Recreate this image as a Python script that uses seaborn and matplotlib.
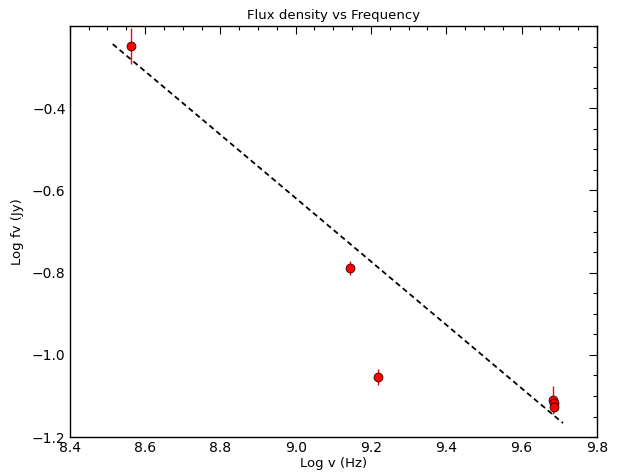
import numpy as np
import pandas as pd
import matplotlib
matplotlib.use("Agg")
import matplotlib.pyplot as plt
import seaborn as sns
from matplotlib.ticker import MultipleLocator

# measured points (log frequency, log flux density, error)
log_freq = [8.562, 9.144, 9.218, 9.684, 9.685, 9.686]
log_flux = [-0.249, -0.789, -1.054, -1.110, -1.118, -1.127]
flux_err = [0.043, 0.017, 0.019, 0.035, 0.015, 0.012]

# fitted power law line end points
fit_x = [8.514, 9.710]
fit_y = [-0.244, -1.166]

data = pd.DataFrame({"logv": log_freq, "logf": log_flux, "err": flux_err})
fit = pd.DataFrame({"logv": fit_x, "logf": fit_y})

sns.set_style("white")
plt.rcParams["font.family"] = ["DejaVu Sans"]
plt.rcParams["text.color"] = "black"
plt.rcParams["axes.labelcolor"] = "black"

fig, ax = plt.subplots(figsize=(6.23, 4.72), dpi=100)
fig.subplots_adjust(left=0.112, right=0.958, top=0.945, bottom=0.074)

# error bars first, then the markers on top
ax.errorbar(data["logv"], data["logf"], yerr=data["err"], fmt="none",
            ecolor="red", elinewidth=1, capsize=0, zorder=2)
sns.scatterplot(data=data, x="logv", y="logf", ax=ax, color="red",
                edgecolor="black", linewidth=0.5, s=42, zorder=3, legend=False)
sns.lineplot(data=fit, x="logv", y="logf", ax=ax, color="black",
             linestyle="--", linewidth=1.3, dashes=False, zorder=1)
ax.lines[-1].set_dashes([3, 2])

ax.set_xlim(8.4, 9.8)
ax.set_ylim(-1.2, -0.2)
ax.xaxis.set_major_locator(MultipleLocator(0.2))
ax.xaxis.set_minor_locator(MultipleLocator(0.05))
ax.set_yticks([-1.2, -1.0, -0.8, -0.6, -0.4])
ax.yaxis.set_minor_locator(MultipleLocator(0.05))

ax.tick_params(which="both", direction="in", top=True, right=True,
               width=0.8, colors="black", labelsize=10)
ax.tick_params(which="major", length=6, pad=3)
ax.tick_params(which="minor", length=3)
for side in ax.spines.values():
    side.set_color("black")
    side.set_linewidth(1)

ax.set_xlabel("Log v (Hz)", fontsize=9.5, labelpad=1, color="black")
ax.set_ylabel("Log fv (Jy)", fontsize=9.5, labelpad=6, color="black")
ax.set_title("Flux density vs Frequency", fontsize=9.5, pad=5, color="black")

fig.savefig("out.png", dpi=100)
